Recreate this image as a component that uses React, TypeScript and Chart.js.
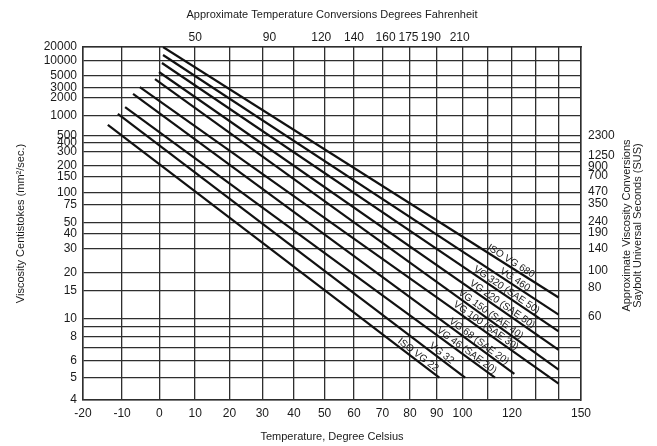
import React, { useEffect, useRef } from "react";
import { Chart, registerables, LinearScale } from "chart.js";

Chart.register(...registerables);

// ---------- data ----------
const celsiusTicks = [-20, -10, 0, 10, 20, 30, 40, 50, 60, 70, 80, 90, 100, 110, 120, 130, 140, 150];
const celsiusTickLabels = ["-20", "-10", "0", "10", "20", "30", "40", "50", "60", "70", "80", "90", "100", "", "120", "", "", "150"];
const fahrenheitTicks = [50, 90, 120, 140, 160, 175, 190, 210];
const centistokeTicks = [20000, 10000, 5000, 3000, 2000, 1000, 500, 400, 300, 200, 150, 100, 75, 50, 40, 30, 20, 15, 10, 9, 8, 7, 6, 5, 4];
const centistokeTickLabels = ["20000", "10000", "5000", "3000", "2000", "1000", "500", "400", "300", "200", "150", "100", "75", "50", "40", "30", "20", "15", "10", "", "8", "", "6", "5", "4"];
const susTickLabels = ["2300", "1250", "900", "700", "470", "350", "240", "190", "140", "100", "80", "60"];
const susEquivalentCentistokes = [496, 270, 194, 151, 101, 75.6, 51.8, 41, 30, 20.6, 15.7, 10.3];

const gradeNames = ["ISO VG 680", "VG 460", "VG 320 (SAE 50)", "VG 220 (SAE 50)", "VG 150 (SAE 40)", "VG 100 (SAE 30)", "VG 68 (SAE 20)", "VG 46 (SAE 20)", "VG 32", "ISO VG 22"];
const startTemperatures = [1.0, 1.0, 0.7, -0.1, -1.2, -5.3, -7.1, -9.2, -11.1, -13.7];
const startViscosities = [20000, 13300, 9000, 5900, 4300, 3050, 2300, 1370, 1060, 715];
const endTemperatures = [140, 140, 140, 140, 140, 140, 121, 113, 101, 91];
const endViscosities = [13.5, 10.6, 8.5, 6.8, 5.45, 4.7, 5.2, 5.0, 5.0, 5.0];
const labelEndTemperatures = [128, 126, 130, 128, 123, 121, 117, 112, 95, 89];

const xMin = -20;
const xMax = 150;
const yMin = 4;
const yMax = 20000;

// ---------- custom scales (ASTM-like chart axes) ----------
const AXIS_TICKS: Record<string, number[]> = {
  x: celsiusTicks,
  xF: fahrenheitTicks.map((f) => ((f - 32) * 5) / 9),
  y: centistokeTicks,
  ySUS: susEquivalentCentistokes,
};

class TransformScale extends LinearScale {
  static id = "transformbase";
  static defaults = {};
  fwd(v: number) {
    return v;
  }
  inv(u: number) {
    return u;
  }
  determineDataLimits() {
    const o: any = this.options;
    (this as any).min = this.fwd(o.min);
    (this as any).max = this.fwd(o.max);
  }
  buildTicks() {
    return (AXIS_TICKS[(this as any).id] || []).map((value) => ({ value }));
  }
  getPixelForValue(value: any) {
    if (value === null || value === undefined || isNaN(value)) return NaN;
    const self: any = this;
    return this.getPixelForDecimal((this.fwd(value) - self._startValue) / self._valueRange);
  }
  getValueForPixel(pixel: number) {
    const self: any = this;
    return this.inv(self._startValue + this.getDecimalForPixel(pixel) * self._valueRange);
  }
}

class TemperatureScale extends TransformScale {
  static id = "temperature";
  static defaults = {};
  fwd(v: number) {
    return Math.log10(v + 230);
  }
  inv(u: number) {
    return Math.pow(10, u) - 230;
  }
}

class ViscosityScale extends TransformScale {
  static id = "viscosity";
  static defaults = {};
  fwd(v: number) {
    return Math.log10(Math.log10(v + 0.7));
  }
  inv(u: number) {
    return Math.pow(10, Math.pow(10, u)) - 0.7;
  }
}

Chart.register(TemperatureScale as any, ViscosityScale as any);

const FONT = "'Liberation Sans', Arial, Helvetica, sans-serif";
const INK = "#1a1a1a";
const GRID = "#2e2e2e";

const gradeLabelPlugin = {
  id: "gradeLabels",
  afterDatasetsDraw(chart: any) {
    const { ctx } = chart;
    const xs = chart.scales.x;
    const ys = chart.scales.y;
    ctx.save();
    ctx.fillStyle = INK;
    ctx.font = `10px ${FONT}`;
    ctx.textAlign = "right";
    ctx.textBaseline = "alphabetic";
    gradeNames.forEach((name, i) => {
      const x1 = xs.getPixelForValue(startTemperatures[i]);
      const y1 = ys.getPixelForValue(startViscosities[i]);
      const x2 = xs.getPixelForValue(endTemperatures[i]);
      const y2 = ys.getPixelForValue(endViscosities[i]);
      const lx = xs.getPixelForValue(labelEndTemperatures[i]);
      const ly = y1 + ((lx - x1) * (y2 - y1)) / (x2 - x1);
      const angle = Math.atan2(y2 - y1, x2 - x1);
      ctx.save();
      ctx.translate(lx, ly);
      ctx.rotate(angle);
      ctx.fillText(name, 0, -2.5);
      ctx.restore();
    });
    ctx.restore();
  },
};

const rightTitlePlugin = {
  id: "rightTitle",
  afterDraw(chart: any) {
    const { ctx, chartArea } = chart;
    const s = chart.scales.ySUS;
    const cy = (chartArea.top + chartArea.bottom) / 2 + 2;
    ctx.save();
    ctx.fillStyle = INK;
    ctx.font = `11px ${FONT}`;
    ctx.textAlign = "center";
    ctx.textBaseline = "middle";
    ctx.translate(s.right - 30, cy);
    ctx.rotate(-Math.PI / 2);
    ctx.fillText("Approximate Viscosity Conversions", 0, 0);
    ctx.fillText("Saybolt Universal Seconds (SUS)", 0, 11);
    ctx.restore();
  },
};

export default function App() {
  const canvasRef = useRef<HTMLCanvasElement | null>(null);

  useEffect(() => {
    if (!canvasRef.current) return;
    const datasets = gradeNames.map((name, i) => ({
      label: name,
      data: [
        { x: startTemperatures[i], y: startViscosities[i] },
        { x: endTemperatures[i], y: endViscosities[i] },
      ],
      showLine: true,
      borderColor: "#111",
      borderWidth: 2.2,
      pointRadius: 0,
      fill: false,
      xAxisID: "x",
      yAxisID: "y",
    }));

    const tickFont = { family: FONT, size: 12 };
    const titleFont = { family: FONT, size: 11 };

    const chart = new Chart(canvasRef.current, {
      type: "scatter",
      data: { datasets },
      options: {
        animation: false,
        responsive: true,
        maintainAspectRatio: false,
        events: [],
        layout: { padding: 0 },
        plugins: {
          legend: { display: false },
          tooltip: { enabled: false },
        },
        scales: {
          x: {
            type: "temperature",
            axis: "x",
            position: "bottom",
            min: xMin,
            max: xMax,
            afterFit: (s: any) => {
              s.height = 46;
            },
            grid: { color: GRID, lineWidth: 1.3, drawTicks: false },
            border: { display: true, color: GRID, width: 1.5 },
            ticks: {
              autoSkip: false,
              maxRotation: 0,
              padding: 6,
              color: INK,
              font: tickFont,
              callback: (_v: any, i: number) => celsiusTickLabels[i],
            },
            title: {
              display: true,
              text: "Temperature, Degree Celsius",
              color: INK,
              font: titleFont,
              padding: { top: 0, bottom: 2.4 },
            },
          },
          xF: {
            type: "temperature",
            axis: "x",
            position: "top",
            min: xMin,
            max: xMax,
            afterFit: (s: any) => {
              s.height = 47;
            },
            grid: { display: false, drawTicks: false },
            border: { display: true, color: GRID, width: 1.5 },
            ticks: {
              autoSkip: false,
              maxRotation: 0,
              padding: 2,
              color: INK,
              font: tickFont,
              callback: (_v: any, i: number) => String(fahrenheitTicks[i]),
            },
            title: {
              display: true,
              text: "Approximate Temperature Conversions Degrees Fahrenheit",
              color: INK,
              font: titleFont,
              padding: { top: 8, bottom: 0 },
            },
          },
          y: {
            type: "viscosity",
            axis: "y",
            position: "left",
            min: yMin,
            max: yMax,
            afterFit: (s: any) => {
              s.width = 83;
            },
            grid: { color: GRID, lineWidth: 1.3, drawTicks: false },
            border: { display: true, color: GRID, width: 1.5 },
            ticks: {
              autoSkip: false,
              padding: 6,
              color: INK,
              font: tickFont,
              callback: (_v: any, i: number) => centistokeTickLabels[i],
            },
            title: {
              display: true,
              text: "Viscosity Centistokes (mm²/sec.)",
              color: INK,
              font: titleFont,
              padding: { top: 14.4, bottom: 0 },
            },
          },
          ySUS: {
            type: "viscosity",
            axis: "y",
            position: "right",
            min: yMin,
            max: yMax,
            afterFit: (s: any) => {
              s.width = 76;
            },
            grid: { display: false, drawTicks: false },
            border: { display: true, color: GRID, width: 1.5 },
            ticks: {
              autoSkip: false,
              padding: 7,
              color: INK,
              font: tickFont,
              callback: (_v: any, i: number) => susTickLabels[i],
            },
          },
        },
      } as any,
      plugins: [gradeLabelPlugin, rightTitlePlugin],
    });
    return () => chart.destroy();
  }, []);

  return (
    <div style={{ position: "fixed", left: 0, top: 0, width: 657, height: 446, background: "#fff" }}>
      <canvas ref={canvasRef} />
    </div>
  );
}
